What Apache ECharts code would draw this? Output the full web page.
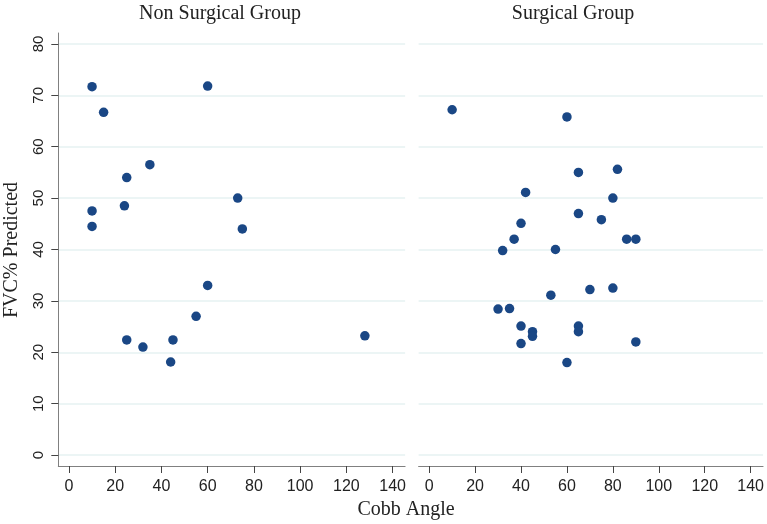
<!DOCTYPE html>
<html>
<head>
<meta charset="utf-8">
<script src="https://cdn.jsdelivr.net/npm/echarts@6/dist/echarts.min.js"></script>
<style>
html,body{margin:0;padding:0;background:#fff;}
#chart{width:767px;height:524px;}
</style>
</head>
<body>
<div id="chart"></div>
<script>
// ---- data ----
const panelTitles = ['Non Surgical Group', 'Surgical Group'];
const xTitle = 'Cobb Angle';
const yTitle = 'FVC% Predicted';
const xTicks = [0, 20, 40, 60, 80, 100, 120, 140];
const yTicks = [0, 10, 20, 30, 40, 50, 60, 70, 80];

const nonSurgX = [10, 60, 15, 35, 25, 73, 24, 10, 10, 75, 60, 55, 128, 25, 45, 32, 44];
const nonSurgY = [71.7, 71.8, 66.7, 56.5, 54.0, 50.0, 48.5, 47.5, 44.5, 44.0, 33.0, 27.0, 23.2, 22.4, 22.4, 21.0, 18.1];

const surgX = [10, 60, 82, 65, 42, 80, 65, 75, 40, 37, 86, 90, 32, 55, 70, 80, 53, 30, 35, 40, 65, 45, 45, 65, 90, 40, 60];
const surgY = [67.2, 65.8, 55.6, 55.0, 51.1, 50.0, 47.0, 45.8, 45.1, 42.0, 42.0, 42.0, 39.8, 40.0, 32.2, 32.5, 31.1, 28.4, 28.5, 25.1, 25.1, 24.0, 23.1, 24.0, 22.0, 21.7, 18.0];

// ---- chart ----
const markerColor = '#1a4785';
const gridColor = '#e6f2f2';
const axisColor = '#808080';
const tickColor = '#444';
const serif = '"Liberation Serif", "DejaVu Serif", serif';
const sans = '"Liberation Sans", Arial, sans-serif';

function pairs(xs, ys) { return xs.map((x, i) => [x, ys[i]]); }

function xAxisCfg(gi) {
  return {
    gridIndex: gi, type: 'value', min: -4.6, max: 145.4,
    axisLine: { show: true, onZero: false, lineStyle: { color: axisColor, width: 1 } },
    axisTick: { show: true, length: 7, customValues: xTicks, lineStyle: { color: tickColor } },
    axisLabel: { show: true, customValues: xTicks, margin: 13, fontSize: 16, fontFamily: sans, color: '#222' },
    splitLine: { show: false }
  };
}
function yAxisCfg(gi, showAxis) {
  return {
    gridIndex: gi, type: 'value', min: -2.14, max: 82.14,
    axisLine: { show: showAxis, onZero: false, lineStyle: { color: axisColor, width: 1 } },
    axisTick: { show: showAxis, length: 7, customValues: yTicks, lineStyle: { color: tickColor } },
    axisLabel: { show: showAxis, customValues: yTicks, rotate: 90, margin: 12, fontSize: 15, fontFamily: sans, color: '#222' },
    splitLine: { show: true, lineStyle: { color: gridColor, width: 1.5 } }
  };
}

const chart = echarts.init(document.getElementById('chart'), null, { renderer: 'canvas' });
chart.setOption({
  animation: false,
  backgroundColor: '#fff',
  grid: [
    { left: 58.3, top: 33, width: 346.8, height: 433 },
    { left: 418.6, top: 33, width: 346.8, height: 433 }
  ],
  xAxis: [xAxisCfg(0), xAxisCfg(1)],
  yAxis: [yAxisCfg(0, true), yAxisCfg(1, false)],
  series: [
    { type: 'scatter', xAxisIndex: 0, yAxisIndex: 0, data: pairs(nonSurgX, nonSurgY),
      symbolSize: 9.5, itemStyle: { color: markerColor, opacity: 1 } },
    { type: 'scatter', xAxisIndex: 1, yAxisIndex: 1, data: pairs(surgX, surgY),
      symbolSize: 9.5, itemStyle: { color: markerColor, opacity: 1 } }
  ],
  graphic: [
    { type: 'text', x: 220, y: 14, style: { text: panelTitles[0], font: '20px ' + serif, fill: '#222', textAlign: 'center', textVerticalAlign: 'middle' } },
    { type: 'text', x: 573, y: 14, style: { text: panelTitles[1], font: '20px ' + serif, fill: '#222', textAlign: 'center', textVerticalAlign: 'middle' } },
    { type: 'text', x: 406, y: 510, style: { text: xTitle, font: '20px ' + serif, fill: '#222', textAlign: 'center', textVerticalAlign: 'middle' } },
    { type: 'text', x: 12, y: 250, rotation: Math.PI / 2, style: { text: yTitle, font: '20px ' + serif, fill: '#222', textAlign: 'center', textVerticalAlign: 'middle' } }
  ]
});
</script>
</body>
</html>
